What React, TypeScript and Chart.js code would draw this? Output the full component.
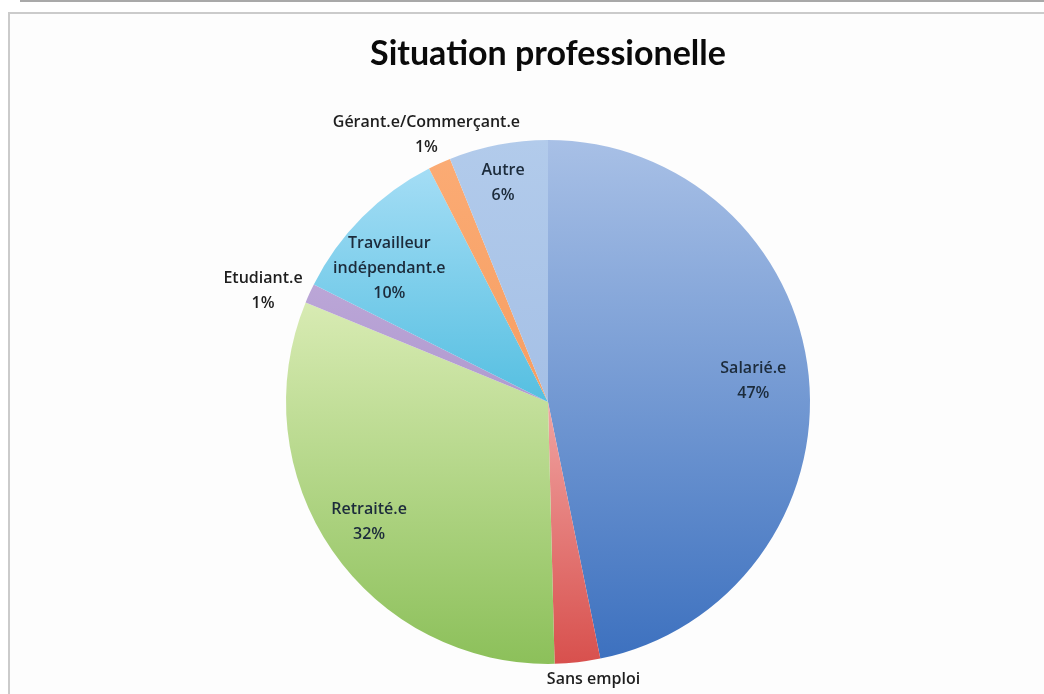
import React, { useEffect, useRef } from "react";
import { Chart, registerables } from "chart.js";

Chart.register(...registerables);

const categories = [
  "Salarié.e",
  "Sans emploi",
  "Retraité.e",
  "Etudiant.e",
  "Travailleur indépendant.e",
  "Gérant.e/Commerçant.e",
  "Autre",
];
const shares = [46.8, 2.8, 31.6, 1.2, 10.1, 1.4, 6.1];
const lightColors = ["#a8c0e6", "#f0a4a2", "#d8ebb3", "#bba6d7", "#a4ddf5", "#fbab74", "#b2cbeb"];
const darkColors = ["#3d71bf", "#d8504d", "#8cc05a", "#b09ad0", "#55bfe1", "#f69e62", "#a5c0e6"];
const titleText = "Situation professionelle";

const FONT = "'Open Sans', Lato, sans-serif";

function sliceRange(i: number, area: any) {
  const total = shares.reduce((a, b) => a + b, 0);
  let cum = 0;
  for (let k = 0; k < i; k++) cum += shares[k];
  const a0 = -Math.PI / 2 + (2 * Math.PI * cum) / total;
  const a1 = a0 + (2 * Math.PI * shares[i]) / total;
  const cy = (area.top + area.bottom) / 2;
  const r = Math.min(area.right - area.left, area.bottom - area.top) / 2;
  const ys = [cy, cy + r * Math.sin(a0), cy + r * Math.sin(a1)];
  for (const t of [-Math.PI / 2, Math.PI / 2, (3 * Math.PI) / 2]) {
    if (t >= a0 && t <= a1) ys.push(cy + r * Math.sin(t));
  }
  return [Math.min(...ys), Math.max(...ys)];
}

const labelPlugin = {
  id: "sliceLabels",
  afterDatasetsDraw(chart: any, _args: any, opts: any) {
    const ctx = chart.ctx;
    const meta = chart.getDatasetMeta(0);
    const data = chart.data.datasets[0].data as number[];
    ctx.save();
    ctx.textAlign = "center";
    ctx.textBaseline = "middle";
    ctx.font = `600 16px ${FONT}`;
    meta.data.forEach((arc: any, i: number) => {
      const mid = (arc.startAngle + arc.endAngle) / 2;
      const f = opts.factors[i];
      const off = opts.offsets[i];
      const x = arc.x + Math.cos(mid) * arc.outerRadius * f + off[0];
      const y = arc.y + Math.sin(mid) * arc.outerRadius * f + off[1];
      const inside = f < 1;
      const name = chart.data.labels[i] as string;
      const lines = inside ? name.split(" ") : [name];
      lines.push(Math.round(data[i]) + "%");
      ctx.fillStyle = inside ? "#1c2b3b" : "#1e1e1e";
      const lh = 25;
      const y0 = y - ((lines.length - 1) * lh) / 2;
      lines.forEach((t, k) => ctx.fillText(t, x, y0 + k * lh));
    });
    ctx.restore();
  },
};

export default function App() {
  const ref = useRef<HTMLCanvasElement>(null);
  useEffect(() => {
    document.body.style.margin = "0";
    const chart = new Chart(ref.current!, {
      type: "pie",
      data: {
        labels: categories,
        datasets: [
          {
            data: shares,
            borderWidth: 0,
            backgroundColor: (c: any) => {
              const area = c.chart.chartArea;
              const i = c.dataIndex;
              if (!area) return darkColors[i];
              const [y0, y1] = sliceRange(i, area);
              const g = c.chart.ctx.createLinearGradient(0, y0, 0, y1);
              g.addColorStop(0, lightColors[i]);
              g.addColorStop(1, darkColors[i]);
              return g;
            },
          },
        ],
      },
      options: {
        animation: false,
        responsive: true,
        maintainAspectRatio: false,
        layout: { padding: { top: 18, left: 286, right: 234, bottom: 30 } },
        plugins: {
          legend: { display: false },
          tooltip: { enabled: false },
          title: {
            display: true,
            text: titleText,
            color: "#0a0a0a",
            font: { family: "Lato, sans-serif", size: 34, weight: "bold" },
            padding: { top: 16, bottom: 65 },
          },
          sliceLabels: {
            factors: [0.78, 1.1, 0.82, 1.17, 0.8, 1.12, 0.86],
            offsets: [[2, 0], [13, 4], [-2, -2], [-6, 16], [-10, 14], [0, 0], [-2, 2]],
          },
        } as any,
      },
      plugins: [labelPlugin],
    });
    return () => chart.destroy();
  }, []);
  return (
    <div style={{ position: "relative", width: 1044, height: 694, overflow: "hidden", background: "#fff" }}>
      <div style={{ position: "absolute", left: 20, top: 0, right: 0, height: 2, background: "#a9a9a9" }} />
      <div
        style={{
          position: "absolute",
          left: 8,
          top: 12,
          width: 1100,
          height: 800,
          borderTop: "2px solid #cbcbcb",
          borderLeft: "2px solid #cbcbcb",
          background: "#fdfdfd",
        }}
      />
      <div style={{ position: "absolute", left: 0, top: 0, width: 1044, height: 694 }}>
        <canvas ref={ref} />
      </div>
    </div>
  );
}
